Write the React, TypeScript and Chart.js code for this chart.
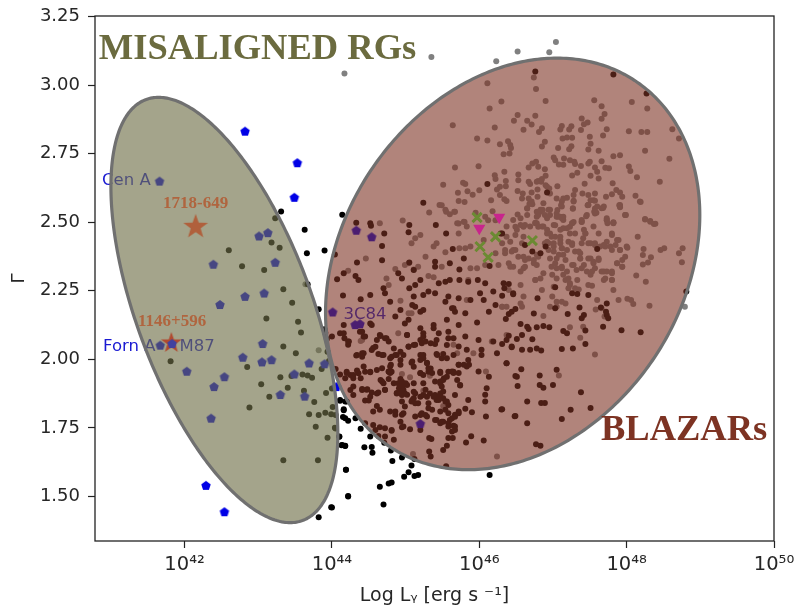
import React, { useEffect, useRef } from "react";
import { Chart, registerables } from "chart.js";

Chart.register(...registerables);

type P = [number, number];

const xTickExponents = [42, 44, 46, 48, 50];
const yTickValues = [1.5, 1.75, 2.0, 2.25, 2.5, 2.75, 3.0, 3.25];

const greyUpper: P[] = [[47.04,3.157],[46.95,3.119],[46.52,3.122],[46.23,3.087],[44.17,3.042],[45.35,3.102],[48.79,2.192],[46.74,3.027],[46.77,2.985],[46.90,2.942],[46.11,3.006],[46.30,2.94],[46.14,2.914],[46.52,2.891],[46.76,2.888],[46.47,2.87],[46.65,2.87],[46.71,2.856],[45.64,2.853],[46.21,2.845],[46.60,2.837],[46.81,2.829],[46.85,2.842],[45.97,2.805],[46.11,2.798],[46.28,2.784],[46.39,2.795],[46.42,2.781],[46.43,2.77],[46.33,2.748],[46.41,2.75],[46.89,2.793],[46.85,2.776],[47.07,2.77],[47.10,2.838],[47.12,2.851],[47.22,2.838],[47.25,2.85],[47.38,2.836],[47.39,2.878],[47.42,2.857],[47.47,2.863],[47.56,2.944],[47.66,2.923],[47.70,2.894],[47.66,2.877],[47.73,2.839],[47.68,2.816],[47.50,2.811],[47.51,2.786],[47.48,2.765],[47.62,2.76],[47.25,2.777],[47.22,2.766],[47.13,2.805],[47.19,2.809],[47.26,2.808],[48.03,2.831],[48.20,2.829],[48.28,2.829],[48.25,2.76],[48.07,2.938],[48.28,2.914],[48.62,2.839],[48.71,2.805],[48.58,2.731],[48.45,2.647],[47.82,2.74],[47.91,2.744],[48.03,2.703],[48.05,2.687],[48.14,2.664],[45.67,2.699],[45.99,2.704],[46.34,2.684],[46.21,2.671],[46.22,2.657],[46.53,2.674],[46.53,2.653],[46.67,2.699],[46.72,2.714],[46.77,2.72],[46.80,2.702],[46.89,2.693],[46.90,2.669],[46.85,2.657],[46.80,2.65],[47.01,2.736],[47.03,2.726],[47.15,2.732],[47.08,2.71],[47.14,2.709],[47.23,2.726],[47.29,2.72],[47.30,2.712],[47.38,2.705],[47.50,2.72],[47.48,2.714],[47.66,2.722],[47.57,2.699],[47.60,2.684],[47.71,2.698],[47.76,2.697],[47.62,2.659],[47.51,2.669],[47.33,2.68],[47.26,2.67],[47.43,2.64],[47.81,2.642],[47.06,2.631],[45.51,2.636],[45.78,2.644],[45.81,2.639],[45.71,2.607],[45.84,2.613],[45.91,2.6],[46.0,2.616],[45.72,2.577],[45.80,2.574],[46.16,2.58],[46.34,2.584],[46.37,2.577],[46.28,2.599],[46.28,2.629],[46.24,2.619],[46.36,2.65],[46.36,2.631],[46.52,2.614],[46.59,2.605],[46.67,2.647],[46.69,2.639],[46.71,2.608],[46.79,2.619],[46.79,2.593],[46.58,2.586],[46.67,2.586],[46.68,2.566],[46.78,2.647],[46.84,2.647],[46.90,2.635],[46.92,2.629],[46.95,2.623],[46.96,2.605],[47.05,2.586],[47.14,2.586],[47.19,2.589],[47.30,2.617],[47.28,2.599],[47.28,2.578],[47.40,2.605],[47.48,2.599],[47.51,2.58],[47.57,2.605],[47.55,2.58],[47.57,2.578],[47.72,2.593],[47.80,2.602],[47.86,2.617],[47.91,2.608],[47.94,2.593],[47.90,2.562],[47.91,2.554],[47.99,2.526],[48.12,2.596],[48.19,2.574],[48.25,2.51],[48.32,2.504],[48.37,2.493],[47.68,2.552],[47.57,2.55],[47.59,2.534],[47.47,2.562],[47.27,2.549],[47.06,2.544],[47.11,2.562],[47.07,2.52],[47.45,2.522],[47.39,2.501],[47.12,2.514],[47.03,2.489],[46.83,2.538],[46.86,2.544],[46.80,2.526],[46.65,2.55],[46.72,2.565],[46.52,2.528],[46.56,2.514],[46.22,2.507],[46.18,2.54],[46.08,2.52],[46.12,2.507],[45.95,2.534],[45.80,2.501],[45.72,2.495],[45.55,2.538],[45.66,2.538],[45.49,2.562],[46.49,2.483],[46.60,2.483],[46.76,2.498],[46.80,2.483],[46.92,2.514],[46.96,2.526],[47.73,2.507],[47.82,2.498],[47.28,2.501],[47.23,2.483]];

const greyLower: P[] = [[46.65,2.551],[46.71,2.575],[46.87,2.569],[47.12,2.575],[47.27,2.551],[47.48,2.563],[47.60,2.557],[47.69,2.557],[47.91,2.563],[47.98,2.526],[48.18,2.575],[48.25,2.512],[48.32,2.502],[48.39,2.494],[47.73,2.508],[47.82,2.5],[48.15,2.447],[47.56,2.538],[47.46,2.526],[47.39,2.502],[47.44,2.459],[47.55,2.484],[47.62,2.459],[47.73,2.429],[47.80,2.453],[47.87,2.435],[47.85,2.417],[47.78,2.411],[47.91,2.399],[48.01,2.407],[47.98,2.374],[47.94,2.362],[47.87,2.35],[47.94,2.338],[48.46,2.399],[48.51,2.405],[48.76,2.405],[48.71,2.387],[48.75,2.354],[48.33,2.372],[48.29,2.353],[48.22,2.346],[48.23,2.402],[48.22,2.38],[48.13,2.306],[48.26,2.283],[47.82,2.253],[47.89,2.216],[48.01,2.221],[48.06,2.216],[48.09,2.202],[48.31,2.195],[47.60,2.216],[47.58,2.182],[47.66,2.186],[47.70,2.156],[46.87,2.158],[46.85,2.253],[46.60,2.229],[46.56,2.271],[47.23,2.117],[47.41,2.119],[47.37,2.079],[46.40,2.253],[46.37,2.089],[46.56,2.204],[46.58,2.192],[46.46,2.508],[46.56,2.49],[46.37,2.484],[46.51,2.472],[46.78,2.538],[46.85,2.545],[46.96,2.545],[47.05,2.532],[47.10,2.52],[47.14,2.508],[46.78,2.496],[46.85,2.484],[46.92,2.472],[46.96,2.459],[47.03,2.447],[47.10,2.435],[47.19,2.478],[47.26,2.496],[47.30,2.459],[47.42,2.472],[47.10,2.472],[47.12,2.405],[47.19,2.399],[47.01,2.411],[46.94,2.423],[47.08,2.381],[46.96,2.368],[47.03,2.35],[47.12,2.332],[47.19,2.32],[47.26,2.344],[47.35,2.393],[47.37,2.368],[47.42,2.344],[47.48,2.368],[47.55,2.356],[47.62,2.368],[47.57,2.332],[47.46,2.32],[47.51,2.308],[47.66,2.32],[47.73,2.32],[47.80,2.32],[47.69,2.289],[47.80,2.289],[47.33,2.289],[47.23,2.277],[47.21,2.259],[47.17,2.289],[47.05,2.295],[46.99,2.308],[46.87,2.314],[46.83,2.295],[46.76,2.289],[46.60,2.332],[46.56,2.32],[46.42,2.338],[46.40,2.35],[46.53,2.374],[46.62,2.362],[46.74,2.35],[46.78,2.381],[46.44,2.393],[46.49,2.399],[46.35,2.387],[46.31,2.423],[46.42,2.429],[46.60,2.447],[46.49,2.453],[46.69,2.484],[46.58,2.423],[46.92,2.429],[47.26,2.423],[47.39,2.423],[47.51,2.423],[47.57,2.417],[47.69,2.417],[47.01,2.265],[46.99,2.229],[47.05,2.21],[47.12,2.21],[47.17,2.204],[47.05,2.192],[46.96,2.192],[47.30,2.259],[47.48,2.271],[47.53,2.268],[47.35,2.255],[46.37,2.192],[46.31,2.192]];

const greyLeft: P[] = [[44.65,2.496],[44.96,2.506],[44.99,2.344],[45.04,2.35],[44.86,2.329],[44.74,2.295],[44.77,2.271],[44.46,2.368],[44.22,2.323],[44.93,2.214],[45.04,2.168],[45.08,2.168],[44.90,2.095],[44.41,2.071],[45.32,2.535],[45.46,2.563],[45.54,2.545],[45.60,2.529],[45.67,2.538],[45.20,2.453],[45.13,2.441],[45.08,2.423],[45.42,2.423],[45.38,2.411],[45.54,2.39],[45.73,2.405],[45.81,2.405],[45.88,2.411],[45.27,2.374],[45.17,2.338],[45.11,2.328],[45.31,2.304],[45.38,2.299],[45.49,2.338],[45.70,2.496],[45.79,2.502],[45.72,2.459],[45.83,2.484],[45.88,2.332],[45.97,2.332],[46.08,2.344],[46.26,2.344],[46.46,2.338],[46.31,2.192],[45.83,2.216],[46.35,2.399],[46.06,2.435],[46.37,2.447],[46.46,2.399],[46.22,2.387],[45.85,2.289],[44.39,2.067],[45.65,2.053],[45.70,2.022],[45.92,2.022],[46.09,1.956],[46.17,2.065],[44.95,1.947],[45.06,1.935],[45.33,1.94],[45.24,1.886],[45.51,1.83],[45.10,1.655],[46.24,1.646],[47.57,2.018],[47.08,1.941],[43.82,2.033],[43.64,2.274]];

const greyDense: P[] = [[46.69,2.569],[47.12,2.557],[47.28,2.575],[46.83,2.545],[46.94,2.545],[46.89,2.526],[46.78,2.52],[46.65,2.526],[47.05,2.52],[47.14,2.52],[46.76,2.496],[46.87,2.484],[46.62,2.49],[47.01,2.49],[47.26,2.496],[47.14,2.478],[47.23,2.459],[46.92,2.459],[46.98,2.447],[47.10,2.447],[47.39,2.508],[47.44,2.459],[47.41,2.441],[47.21,2.429],[47.10,2.423],[47.01,2.423],[46.89,2.423],[46.94,2.399],[47.01,2.393],[47.12,2.405],[47.26,2.417],[47.14,2.381],[47.05,2.368],[47.17,2.362],[47.30,2.393],[47.37,2.387],[47.37,2.368],[47.48,2.423],[47.57,2.423],[47.64,2.411],[47.73,2.514],[47.82,2.496],[47.74,2.496],[47.51,2.368],[47.55,2.35],[47.62,2.362],[46.60,2.374],[46.67,2.368],[46.74,2.362],[46.80,2.374],[46.62,2.338],[46.78,2.344],[46.98,2.338],[47.05,2.332],[47.12,2.338],[47.28,2.344],[47.32,2.326],[47.39,2.332],[47.14,2.308],[47.21,2.295],[47.23,2.271],[47.53,2.32],[47.69,2.32],[47.80,2.314],[47.80,2.289],[47.71,2.295],[46.76,2.289],[47.87,2.35],[47.94,2.338],[47.91,2.399],[48.0,2.411],[47.80,2.399],[47.71,2.411],[47.80,2.459],[47.89,2.435],[47.48,2.563],[47.57,2.532],[47.66,2.551],[47.91,2.557],[47.98,2.526]];

const blackCore: P[] = [[44.22,2.053],[44.41,2.022],[44.33,2.014],[44.56,2.041],[44.63,2.02],[44.70,2.016],[44.81,2.01],[44.93,2.028],[45.04,2.047],[45.13,2.053],[45.22,2.059],[45.40,2.056],[45.51,2.02],[45.24,2.016],[45.29,1.988],[45.31,1.968],[45.08,1.988],[44.93,1.98],[44.80,1.98],[44.77,1.956],[44.68,1.968],[44.52,1.953],[44.43,1.974],[44.34,1.959],[44.20,1.95],[44.18,1.931],[44.29,1.943],[44.39,1.931],[44.29,1.901],[44.41,1.892],[44.47,1.889],[44.54,1.879],[44.63,1.879],[44.72,1.889],[44.68,1.919],[44.93,1.928],[45.0,1.913],[44.88,1.877],[44.97,1.877],[45.11,1.913],[45.2,1.95],[45.36,1.95],[45.51,1.925],[45.47,1.95],[45.56,1.937],[45.65,1.95],[45.72,1.98],[45.83,1.974],[45.85,1.998],[45.99,1.956],[46.13,1.937],[46.1,1.895],[46.08,1.871],[46.08,1.846],[45.74,1.905],[45.85,1.852],[45.81,1.82],[45.9,1.807],[46.09,1.792],[46.3,1.817],[46.49,1.794],[46.37,1.986],[46.51,1.937],[46.24,2.022],[46.44,2.047],[46.03,2.016],[46.03,2.035],[45.72,2.047],[45.83,2.035],[45.42,2.02],[45.2,1.998],[44.88,2.016],[44.79,1.95],[44.52,1.864],[44.45,1.85],[44.5,1.85],[44.61,1.83],[44.56,1.81],[44.65,1.816],[44.79,1.81],[44.86,1.798],[44.95,1.798],[45.11,1.858],[45.17,1.84],[45.29,1.864],[45.42,1.864],[45.51,1.858],[45.56,1.846],[45.42,1.852],[45.31,1.822],[45.22,1.804],[45.13,1.792],[44.95,1.753],[45.06,1.745],[45.29,1.792],[45.40,1.779],[45.49,1.773],[45.58,1.767],[45.67,1.798],[45.72,1.81],[45.65,1.758],[45.67,1.743],[45.54,1.816],[45.47,1.81],[45.63,1.785],[44.56,1.761],[44.65,1.753],[44.81,1.743],[44.72,1.719],[44.84,1.707],[45.32,1.713],[45.35,1.71],[45.58,1.713],[45.64,1.713],[45.89,1.72],[45.82,1.697],[46.06,1.704],[45.56,1.685],[45.51,1.67],[45.32,1.664],[45.34,1.646],[45.02,1.871],[44.93,1.901],[44.97,1.889],[45.08,1.846],[45.24,1.913],[45.49,1.901],[45.51,1.883],[45.72,1.95],[45.63,1.956],[45.40,1.919],[45.47,1.919],[44.84,1.913],[44.77,1.928]];

const blackDense: P[] = [[45.09,2.198],[45.2,2.174],[45.63,2.186],[45.67,2.174],[44.54,2.125],[44.38,2.101],[44.45,2.083],[44.16,2.095],[44.17,2.077],[44.23,2.065],[44.66,2.085],[44.61,2.071],[44.72,2.077],[44.77,2.065],[44.54,2.034],[44.59,2.046],[45.02,2.089],[45.24,2.095],[45.38,2.113],[45.45,2.095],[45.58,2.101],[45.58,2.077],[45.56,2.052],[45.04,2.046],[45.11,2.052],[45.2,2.071],[45.27,2.065],[45.34,2.059],[44.84,2.04],[44.86,2.016],[44.97,2.016],[44.68,2.016],[44.34,2.016],[44.41,2.01],[44.43,2.022],[44.79,2.004],[44.93,1.998],[44.79,1.974],[45.09,1.992],[45.11,1.973],[45.2,2.016],[45.24,2.004],[45.29,1.986],[45.34,1.967],[45.43,2.016],[45.49,2.004],[45.56,2.004],[45.65,2.016],[45.72,1.98],[45.79,1.98],[45.86,1.98],[44.45,1.955],[44.52,1.955],[44.61,1.961],[44.77,1.955],[44.81,1.955],[44.2,1.955],[44.25,1.943],[44.29,1.931],[44.36,1.949],[44.66,1.925],[44.70,1.913],[44.95,1.919],[45.02,1.907],[44.91,1.895],[44.97,1.882],[45.2,1.949],[45.24,1.943],[45.31,1.955],[45.47,1.955],[45.58,1.955],[45.65,1.955],[45.52,1.931],[45.47,1.913],[45.7,1.925],[45.74,1.907],[44.41,1.888],[44.48,1.891],[44.61,1.876],[44.72,1.888],[44.25,1.888],[44.29,1.87],[44.95,1.87],[45.11,1.882],[45.24,1.87],[45.38,1.864],[45.47,1.876],[45.67,1.87],[44.90,1.913],[44.97,1.907],[44.93,1.882],[44.88,1.876],[44.99,1.876],[45.13,1.876],[45.27,1.889],[45.33,1.876],[45.20,1.864],[45.09,1.852],[45.13,1.84],[45.40,1.87],[45.47,1.864],[45.45,1.852],[45.54,1.846],[45.58,1.834],[45.31,1.84],[44.95,1.846],[44.99,1.828],[44.86,1.81],[44.97,1.804],[44.93,1.773],[44.97,1.755],[45.20,1.797],[45.27,1.797],[45.36,1.816],[45.58,1.804],[45.72,1.804],[45.67,1.791],[45.42,1.779],[45.51,1.773],[45.60,1.779],[45.47,1.767],[45.58,1.755],[45.67,1.755],[45.63,1.737],[45.20,1.743],[44.81,1.74],[44.72,1.749]];

const blackUpper: P[] = [[44.33,2.498],[44.52,2.496],[44.53,2.487],[44.71,2.459],[44.68,2.413],[44.34,2.353],[44.16,2.314],[44.07,2.292],[44.32,2.304],[44.36,2.289],[44.68,2.361],[44.7,2.259],[44.72,2.241],[44.52,2.235],[44.39,2.219],[44.15,2.233],[45.05,2.49],[45.04,2.463],[45.24,2.571],[45.41,2.49],[45.55,2.459],[45.40,2.356],[45.40,2.338],[45.6,2.35],[45.73,2.328],[45.79,2.368],[46.14,2.34],[46.31,2.459],[45.64,2.402],[45.05,2.353],[44.90,2.314],[44.95,2.295],[45.11,2.326],[45.2,2.289],[45.13,2.271],[45.05,2.259],[45.45,2.277],[45.54,2.283],[45.6,2.289],[45.73,2.289],[45.85,2.283],[45.98,2.289],[46.08,2.277],[46.19,2.247],[46.33,2.277],[46.46,2.241],[46.01,2.241],[46.06,2.216],[46.22,2.198],[46.13,2.174],[45.88,2.216],[45.72,2.223],[45.58,2.229],[45.54,2.21],[45.40,2.241],[45.31,2.247],[45.24,2.235],[45.11,2.229],[44.79,2.21],[44.93,2.18],[45.13,2.192],[45.24,2.18],[45.65,2.186],[45.81,2.168],[45.97,2.134],[45.72,2.125],[45.56,2.144],[45.38,2.125],[45.2,2.113],[45.04,2.144],[44.99,2.131],[44.86,2.156],[44.52,2.131],[44.41,2.101],[44.16,2.125],[44.11,2.095],[44.0,2.083],[44.22,2.065],[44.43,2.083],[44.65,2.089],[44.74,2.077],[45.02,2.089],[45.24,2.083],[45.42,2.071],[45.65,2.077],[45.81,2.083],[45.99,2.071],[46.19,2.065],[46.37,2.071]];

const blackRight: P[] = [[46.76,3.049],[47.82,3.038],[48.27,2.969],[46.92,2.608],[46.11,2.639],[48.81,2.247],[47.6,2.402],[46.83,2.387],[46.72,2.393],[46.62,2.417],[46.9,2.411],[46.29,2.459],[47.03,2.263],[47.26,2.241],[47.33,2.238],[47.48,2.235],[46.79,2.223],[46.46,2.237],[46.4,2.275],[46.34,2.259],[46.31,2.232],[47.73,2.204],[47.65,2.189],[47.72,2.174],[47.73,2.162],[47.75,2.15],[47.36,2.189],[47.03,2.186],[46.49,2.184],[46.44,2.174],[46.4,2.165],[46.36,2.147],[46.74,2.167],[47.2,2.165],[47.42,2.162],[47.39,2.15],[46.56,2.129],[46.65,2.119],[46.67,2.111],[46.78,2.117],[46.87,2.122],[46.95,2.117],[47.14,2.103],[47.19,2.095],[47.44,2.105],[47.68,2.119],[47.93,2.106],[48.19,2.099],[46.4,2.086],[46.58,2.089],[46.51,2.074],[46.72,2.073],[46.31,2.056],[46.44,2.044],[47.44,2.056],[47.12,2.038],[47.27,2.04],[46.78,2.04],[46.58,2.035],[46.69,2.035],[46.84,2.032],[46.37,1.986],[46.57,1.964],[46.49,1.939],[46.52,1.903],[46.82,1.941],[47.05,1.962],[46.82,1.907],[46.87,1.897],[47.0,1.907],[47.38,1.88],[46.65,1.846],[46.84,1.841],[46.89,1.841],[47.24,1.816],[47.51,1.823],[46.31,1.818],[46.48,1.793],[46.65,1.767],[47.12,1.783],[46.77,1.691],[46.83,1.685]];

const blackLeft: P[] = [[43.23,2.514],[43.18,2.426],[43.29,2.407],[42.6,2.398],[42.78,2.339],[43.08,2.326],[43.31,2.539],[43.63,2.472],[44.14,2.527],[43.66,2.387],[43.9,2.397],[44.04,2.382],[43.34,2.256],[43.46,2.206],[43.11,2.149],[43.54,2.137],[43.58,2.098],[43.34,2.047],[43.51,2.022],[41.81,1.993],[42.85,1.972],[43.30,1.935],[43.45,1.939],[43.60,1.945],[43.67,1.941],[43.73,1.933],[43.86,1.965],[43.04,1.909],[43.40,1.897],[43.62,1.886],[43.15,1.864],[43.92,1.877],[43.76,1.845],[42.88,1.825],[43.69,1.8],[43.82,1.797],[43.91,1.805],[43.99,1.8],[43.78,1.754],[43.94,1.714],[43.34,1.632],[43.81,1.632],[43.67,2.274],[43.82,2.183],[43.9,2.11],[43.91,2.097],[43.93,2.074],[43.94,2.028],[43.96,1.994],[44.05,1.965],[44.11,1.945],[44.0,1.894],[44.11,1.849],[44.2,1.846],[44.01,1.826],[44.05,1.797],[44.16,1.815],[44.18,1.785],[44.05,1.748],[44.1,1.718],[44.14,1.688],[44.18,1.684],[44.19,1.598],[44.22,1.5],[44.0,1.46],[43.82,1.425]];

const blackTail: P[] = [[44.11,1.852],[44.18,1.846],[44.16,1.818],[44.15,1.79],[44.22,1.776],[44.32,1.785],[44.04,1.751],[44.39,1.747],[44.52,1.719],[44.1,1.719],[44.13,1.687],[44.18,1.685],[44.44,1.68],[44.54,1.681],[44.55,1.66],[44.71,1.696],[44.8,1.668],[44.95,1.642],[44.82,1.63],[45.12,1.637],[45.08,1.613],[45.04,1.589],[44.98,1.572],[45.12,1.575],[45.17,1.579],[44.81,1.551],[44.77,1.548],[44.65,1.536],[44.19,1.598],[44.22,1.502],[44.7,1.471],[43.99,1.461],[45.55,1.61],[46.14,1.579],[44.45,1.767],[44.59,1.743],[44.63,1.721]];

const bluePentagons: P[] = [[42.82,2.83],[43.53,2.715],[43.49,2.589],[41.66,2.648],[43.13,2.46],[43.01,2.448],[42.39,2.345],[43.23,2.352],[43.08,2.24],[42.82,2.228],[42.48,2.198],[41.67,2.05],[43.06,2.056],[42.79,2.006],[43.05,1.989],[43.18,1.997],[43.69,1.985],[43.9,1.982],[42.03,1.955],[42.54,1.935],[42.40,1.899],[43.49,1.945],[43.30,1.87],[43.63,1.864],[42.36,1.784],[42.29,1.539],[42.54,1.443],[44.06,1.899],[44.33,2.469],[44.54,2.445],[44.01,2.171],[44.315,2.125],[44.38,2.128],[45.2,1.764]];
const m87Point: P[] = [[41.83, 2.056]];
const starA: P[] = [[42.15, 2.483]];
const starB: P[] = [[41.82, 2.06]];
const crosses: P[] = [[45.97,2.517],[46.22,2.447],[46.01,2.411],[46.12,2.372],[46.72,2.433]];
const triangles: P[] = [[46.0,2.478],[46.27,2.518]];

const underLabels: [string, number, number][] = [["Cen A",41.21,2.65],["Forn A",41.25,2.045],["M87",42.17,2.045],["3C84",44.45,2.162]];
const sourceLabels: [string, number, number][] = [["1718-649",42.15,2.566],["1146+596",41.83,2.136]];
const regionLabels: [string, number, number][] = [["MISALIGNED RGs",42.99,3.128],["BLAZARs",48.78,1.739]];
const regionColors = ["#6b6b3f", "#7d3323"];

// centre L, centre Gamma, half-width (decades), half-height, correlation
const regions: [number, number, number, number, number][] = [
  [42.54, 2.18, 1.54, 0.775, -0.58],
  [46.453, 2.348, 2.54, 0.75, 0.237],
];
const regionFills = ["rgba(111,111,71,0.63)", "rgba(125,50,35,0.6)"];

const toXY = (a: P[]) => a.map(([l, g]) => ({ x: Math.pow(10, l), y: g }));
const SUP: Record<string, string> = { "0": "⁰", "2": "²", "4": "⁴", "6": "⁶", "8": "⁸", "5": "⁵" };

function polygon(sides: number, r: number, color: string, inner = 0) {
  const size = Math.ceil(r * 2 + 2);
  const c = document.createElement("canvas");
  c.width = size;
  c.height = size;
  const g = c.getContext("2d")!;
  g.fillStyle = color;
  g.beginPath();
  const n = inner ? sides * 2 : sides;
  for (let i = 0; i < n; i++) {
    const rad = inner && i % 2 ? inner : r;
    const a = -Math.PI / 2 + (i * 2 * Math.PI) / n;
    const x = size / 2 + rad * Math.cos(a);
    const y = size / 2 + rad * Math.sin(a);
    i ? g.lineTo(x, y) : g.moveTo(x, y);
  }
  g.closePath();
  g.fill();
  return c;
}

export default function App() {
  const ref = useRef<HTMLCanvasElement>(null);
  useEffect(() => {
    const xOf = (c: any, l: number) => c.scales.x.getPixelForValue(Math.pow(10, l));
    const yOf = (c: any, g: number) => c.scales.y.getPixelForValue(g);
    const overlay = {
      id: "overlay",
      afterDatasetDraw(c: any, args: any) {
        if (args.index !== 2) return;
        const g = c.ctx;
        g.save();
        g.font = "16.5px 'DejaVu Sans'";
        g.fillStyle = "#1a1ad2";
        g.textAlign = "center";
        g.textBaseline = "middle";
        underLabels.forEach(([t, l, v]) => g.fillText(t, xOf(c, l), yOf(c, v)));
        regions.forEach(([cl, cg, a, b, rho], idx) => {
          g.beginPath();
          const q = Math.sqrt(1 - rho * rho);
          for (let i = 0; i <= 360; i++) {
            const t = (i * Math.PI) / 180;
            const l = cl + a * (rho * Math.cos(t) + q * Math.sin(t));
            const v = cg + b * Math.cos(t);
            const x = xOf(c, l);
            const y = yOf(c, v);
            i ? g.lineTo(x, y) : g.moveTo(x, y);
          }
          g.closePath();
          g.fillStyle = regionFills[idx];
          g.fill();
          g.strokeStyle = "#707070";
          g.lineWidth = 3.2;
          g.stroke();
        });
        g.restore();
      },
      afterDatasetsDraw(c: any) {
        const g = c.ctx;
        g.save();
        g.textAlign = "center";
        g.textBaseline = "middle";
        g.font = "bold 17px 'Liberation Serif'";
        g.fillStyle = "#b0653f";
        sourceLabels.forEach(([t, l, v]) => g.fillText(t, xOf(c, l), yOf(c, v)));
        g.font = "bold 36.5px 'Liberation Serif'";
        regionLabels.forEach(([t, l, v], i) => {
          g.fillStyle = regionColors[i];
          g.fillText(t, xOf(c, l), yOf(c, v));
        });
        const a = c.chartArea;
        g.strokeStyle = "#222";
        g.lineWidth = 1.3;
        g.strokeRect(a.left, a.top, a.right - a.left, a.bottom - a.top);
        g.restore();
      },
    };
    const dot = (data: P[], color: string, order: number) => ({
      data: toXY(data), order, pointRadius: 3, pointBackgroundColor: color, pointBorderWidth: 0, showLine: false,
    });
    const chart = new Chart(ref.current!, {
      type: "scatter",
      data: {
        datasets: [
          { ...dot([...greyUpper, ...greyLower, ...greyLeft, ...greyDense], "#808080", 9) },
          { ...dot([...blackCore, ...blackDense, ...blackUpper, ...blackRight, ...blackLeft, ...blackTail], "#000000", 8) },
          { data: toXY(bluePentagons), order: 7, pointStyle: polygon(5, 5, "#0000e6") as any, pointRadius: 5, showLine: false },
          { data: toXY(starA), order: 5, pointStyle: polygon(5, 13, "#b0603c", 5.2) as any, pointRadius: 13, showLine: false },
          { data: toXY(starB), order: 4, pointStyle: polygon(5, 11, "#b04a30", 4.4) as any, pointRadius: 11, showLine: false },
          { data: toXY(m87Point), order: 3, pointStyle: polygon(5, 5, "#4141a0") as any, pointRadius: 5, showLine: false },
          { data: toXY(triangles), order: 2, pointStyle: "triangle", rotation: 180, pointRadius: 7, pointBackgroundColor: "#c8258c", pointBorderWidth: 0, showLine: false },
          { data: toXY(crosses), order: 1, pointStyle: "crossRot", pointRadius: 6.5, pointBorderColor: "#6b8a32", pointBorderWidth: 3, showLine: false },
        ] as any,
      },
      options: {
        animation: false,
        responsive: false,
        devicePixelRatio: 1,
        layout: { padding: { left: 0, right: 22, top: 16, bottom: 0 } },
        plugins: { legend: { display: false }, tooltip: { enabled: false } },
        scales: {
          x: {
            type: "logarithmic",
            min: Math.pow(10, 40.784),
            max: 1e50,
            afterBuildTicks: (s: any) => { s.ticks = xTickExponents.map((e) => ({ value: Math.pow(10, e), major: true })); },
            afterFit: (s: any) => { s.height = 68; s.paddingLeft = 0; s.paddingRight = 0; },
            ticks: {
              autoSkip: false, maxRotation: 0, padding: 5, color: "#262626",
              font: { family: "'DejaVu Sans'", size: 19.5 },
              callback: (v: any) => "10" + String(Math.round(Math.log10(v))).split("").map((d) => SUP[d] ?? d).join(""),
            },
            grid: { display: true, drawOnChartArea: false, drawTicks: true, tickLength: 7, tickColor: "#222", tickWidth: 1.2 },
            border: { display: false },
            title: { display: true, text: "Log Lᵧ [erg s ⁻¹]", color: "#262626", font: { family: "'DejaVu Sans'", size: 19 }, padding: { top: 0, bottom: 2 } },
          },
          y: {
            type: "linear",
            min: 1.338,
            max: 3.2515,
            afterBuildTicks: (s: any) => { s.ticks = yTickValues.map((v) => ({ value: v })); },
            afterFit: (s: any) => { s.width = 95; s.paddingTop = 0; s.paddingBottom = 0; },
            ticks: {
              autoSkip: false, padding: 8, color: "#262626",
              font: { family: "'DejaVu Sans'", size: 18 },
              callback: (v: any) => Number(v).toFixed(2),
            },
            grid: { display: true, drawOnChartArea: false, drawTicks: true, tickLength: 7, tickColor: "#222", tickWidth: 1.2 },
            border: { display: false },
            title: { display: true, text: "Γ", color: "#262626", font: { family: "'DejaVu Sans'", size: 18 }, padding: { top: 9, bottom: 9 } },
          },
        },
      } as any,
      plugins: [overlay],
    });
    return () => chart.destroy();
  }, []);
  return (
    <div style={{ position: "absolute", left: 0, top: 0, width: 796, height: 609, overflow: "hidden" }}>
      <canvas ref={ref} width={796} height={609} style={{ display: "block", filter: "blur(0.5px)" }} />
    </div>
  );
}
